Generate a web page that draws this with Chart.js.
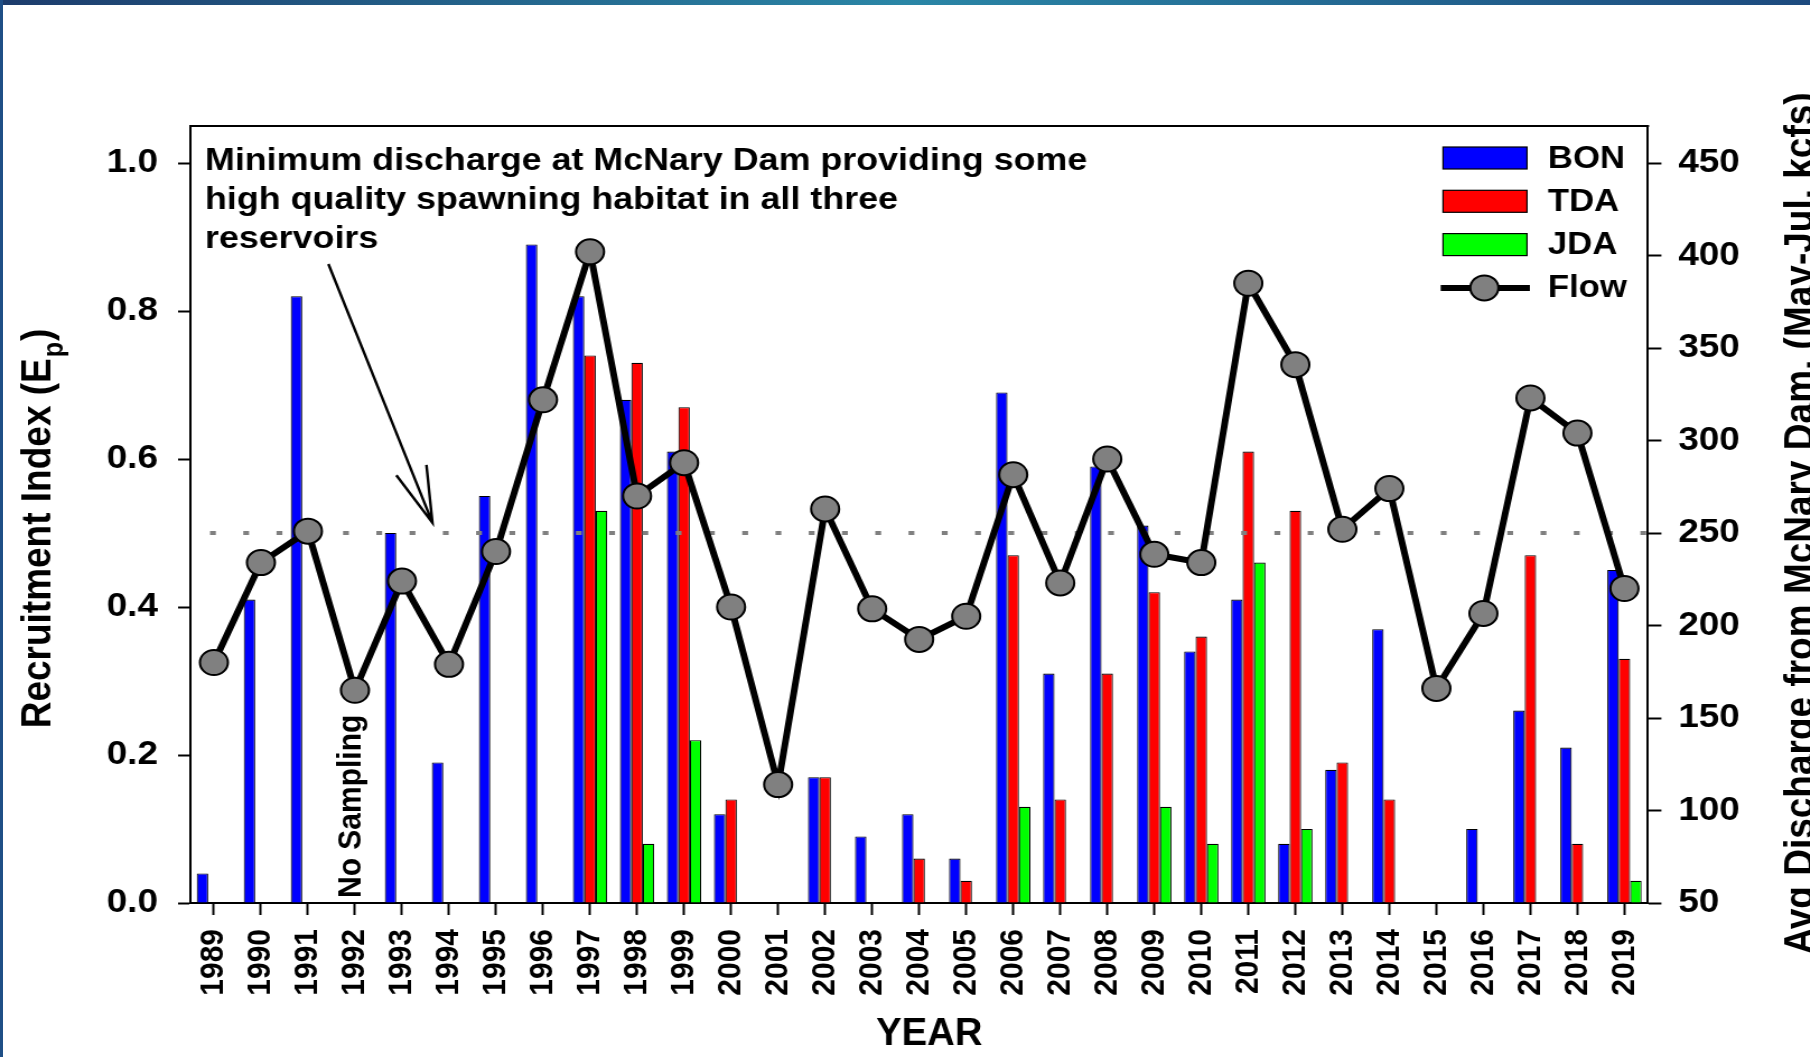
<!DOCTYPE html>
<html>
<head>
<meta charset="utf-8">
<script src="https://cdn.jsdelivr.net/npm/chart.js@4.4.1/dist/chart.umd.min.js"></script>
<style>
html,body{margin:0;padding:0;background:#fff;overflow:hidden;width:1810px;height:1057px;}
#wrap{position:absolute;left:0;top:0;width:1616px;height:1057px;transform:scaleX(1.12);transform-origin:0 0;}
#band{position:absolute;left:0;top:0;width:1810px;height:5px;background:linear-gradient(to right,#1d3c6c 0%,#2a86a6 50%,#1d4a7e 100%);z-index:2;}
#lb{position:absolute;left:0;top:0;width:3px;height:1057px;background:#1f4f86;z-index:2;}
</style>
</head>
<body>
<div id="wrap"><canvas id="c" width="1616" height="1057"></canvas></div>
<div id="band"></div><div id="lb"></div>
<script>
// ---------------- data ----------------
const years = ['1989','1990','1991','1992','1993','1994','1995','1996','1997','1998','1999','2000','2001','2002','2003','2004','2005','2006','2007','2008','2009','2010','2011','2012','2013','2014','2015','2016','2017','2018','2019'];
const bon  = [0.04,0.41,0.82,null,0.50,0.19,0.55,0.89,0.82,0.68,0.61,0.12,null,0.17,0.09,0.12,0.06,0.69,0.31,0.59,0.51,0.34,0.41,0.08,0.18,0.37,null,0.10,0.26,0.21,0.45];
const tda  = [null,null,null,null,null,null,null,null,0.74,0.73,0.67,0.14,null,0.17,null,0.06,0.03,0.47,0.14,0.31,0.42,0.36,0.61,0.53,0.19,0.14,null,null,0.47,0.08,0.33];
const jda  = [null,null,null,null,null,null,null,null,0.53,0.08,0.22,null,null,null,null,null,null,0.13,null,null,0.13,0.08,0.46,0.10,null,null,null,null,null,null,0.03];
const flow = [180,234,251,165,224,179,240,322,402,270,288,210,114,263,209,192.5,205,281.5,223,290,238.5,234,385,341,252,274,166,206.5,323,304,220];

const seriesLabels = ['BON','TDA','JDA','Flow'];
const leftAxis  = {min:0, max:1.05, step:0.2};
const rightAxis = {min:50, max:470, step:50};
const thresholdFlow = 250;
const noSamplingYear = '1992';
const noteLines = ['Minimum discharge at McNary Dam providing some','high quality spawning habitat in all three','reservoirs'];
const leftTitleMain = 'Recruitment Index (E', leftTitleSub = 'p', leftTitleEnd = ')';
const rightTitle = 'Avg Discharge from McNary Dam. (May-Jul. kcfs)';
const xTitle = 'YEAR';
// arrow in data units: [category index, recruitment index]
const arrowStart = [2.435, 0.8635], arrowTip = [4.647, 0.514], arrowH1 = [3.88, 0.578], arrowH2 = [4.52, 0.592];

const FONT = '"Liberation Sans", Arial, Helvetica, sans-serif';
const BLUE = '#0000ff', RED = '#ff0000', GREEN = '#00ff00', GREY = '#808080';

// ---------------- plugins ----------------
function dataPx(chart, p) {
  const xs = chart.scales.x;
  const x0 = xs.getPixelForValue(0), x1 = xs.getPixelForValue(1);
  return [x0 + p[0] * (x1 - x0), chart.scales.y.getPixelForValue(p[1])];
}

const refLinePlugin = {
  id: 'refLine',
  beforeDatasetDraw(chart, args) {
    if (args.meta.type !== 'line') return;
    const {ctx, chartArea: ca} = chart;
    const y = chart.scales.y2.getPixelForValue(thresholdFlow);
    ctx.save();
    ctx.strokeStyle = GREY; ctx.lineWidth = 4;
    ctx.setLineDash([5.2, 24.5]);
    ctx.beginPath(); ctx.moveTo(ca.left + 17.5, y); ctx.lineTo(ca.right, y); ctx.stroke();
    ctx.restore();
  }
};

const framePlugin = {
  id: 'frame',
  afterDatasetsDraw(chart) {
    const {ctx, chartArea: ca} = chart;
    ctx.save();
    ctx.strokeStyle = '#000'; ctx.lineWidth = 2;
    ctx.beginPath();
    ctx.moveTo(ca.left - 1, ca.top); ctx.lineTo(ca.right + 1, ca.top);
    ctx.stroke();
    ctx.restore();
  }
};

const notePlugin = {
  id: 'note',
  afterDatasetsDraw(chart) {
    const {ctx, chartArea: ca} = chart;
    ctx.save();
    ctx.fillStyle = '#000';
    ctx.font = `bold 32px ${FONT}`;
    ctx.textAlign = 'left'; ctx.textBaseline = 'alphabetic';
    noteLines.forEach((t, i) => ctx.fillText(t, ca.left + 13, ca.top + 44 + i * 39));
    // arrow
    const s = dataPx(chart, arrowStart), t = dataPx(chart, arrowTip);
    const h1 = dataPx(chart, arrowH1), h2 = dataPx(chart, arrowH2);
    ctx.strokeStyle = '#000'; ctx.lineWidth = 2.4;
    ctx.beginPath();
    ctx.moveTo(s[0], s[1]); ctx.lineTo(t[0], t[1]);
    ctx.moveTo(h1[0], h1[1]); ctx.lineTo(t[0], t[1]); ctx.lineTo(h2[0], h2[1]);
    ctx.stroke();
    // No Sampling
    const xi = chart.scales.x.getPixelForValue(years.indexOf(noSamplingYear));
    ctx.translate(xi - 3, ca.bottom - 5);
    ctx.rotate(-Math.PI / 2);
    ctx.font = `bold 30px ${FONT}`;
    ctx.textAlign = 'left'; ctx.textBaseline = 'middle';
    ctx.fillText('No Sampling', 0, 0);
    ctx.restore();
  }
};

const legendPlugin = {
  id: 'boxLegend',
  afterDraw(chart) {
    const {ctx, chartArea: ca} = chart;
    const ds = chart.data.datasets;
    const boxL = ca.right - 183, boxW = 75, boxH = 22;
    const textX = ca.right - 89.4;
    const y0 = ca.top + 32, gap = 43.3;
    ctx.save();
    ctx.font = `bold 31px ${FONT}`;
    ctx.textAlign = 'left'; ctx.textBaseline = 'middle';
    ds.forEach((d, i) => {
      const cy = y0 + i * gap;
      if (d.type === 'line') {
        ctx.strokeStyle = d.borderColor; ctx.lineWidth = d.borderWidth;
        ctx.beginPath(); ctx.moveTo(ca.right - 185.1, cy); ctx.lineTo(ca.right - 105.4, cy); ctx.stroke();
        ctx.beginPath(); ctx.arc(ca.right - 146.1, cy, d.pointRadius, 0, Math.PI * 2);
        ctx.fillStyle = d.pointBackgroundColor; ctx.fill();
        ctx.lineWidth = d.pointBorderWidth; ctx.strokeStyle = d.pointBorderColor; ctx.stroke();
      } else {
        ctx.fillStyle = d.backgroundColor;
        ctx.fillRect(boxL, cy - boxH / 2, boxW, boxH);
        ctx.strokeStyle = '#000'; ctx.lineWidth = 1.2;
        ctx.strokeRect(boxL, cy - boxH / 2, boxW, boxH);
      }
      ctx.fillStyle = '#000';
      ctx.fillText(d.label, textX, cy + 1);
    });
    ctx.restore();
  }
};

const axisTitlePlugin = {
  id: 'axisTitles',
  afterDraw(chart) {
    const {ctx, chartArea: ca} = chart;
    const cy = (ca.top + ca.bottom) / 2;
    ctx.save();
    ctx.fillStyle = '#000';
    ctx.translate(ca.left - 125.5, cy + 15);
    ctx.rotate(-Math.PI / 2);
    const f1 = `bold 37px ${FONT}`, f2 = `bold 25px ${FONT}`;
    ctx.font = f1;
    const wA = ctx.measureText(leftTitleMain).width, wC = ctx.measureText(leftTitleEnd).width;
    ctx.font = f2;
    const wB = ctx.measureText(leftTitleSub).width;
    let x = -(wA + wB + wC) / 2;
    ctx.textAlign = 'left'; ctx.textBaseline = 'alphabetic';
    ctx.font = f1; ctx.fillText(leftTitleMain, x, 0); x += wA;
    ctx.font = f2; ctx.fillText(leftTitleSub, x + 1, 11); x += wB + 2;
    ctx.font = f1; ctx.fillText(leftTitleEnd, x, 0);
    ctx.restore();

    ctx.save();
    ctx.fillStyle = '#000';
    ctx.translate(ca.right + 147.1, cy + 9);
    ctx.rotate(-Math.PI / 2);
    ctx.font = `bold 37px ${FONT}`;
    ctx.textAlign = 'center'; ctx.textBaseline = 'alphabetic';
    ctx.fillText(rightTitle, 0, 0);
    ctx.restore();

    // x-axis title (slightly condensed, as in the source figure)
    ctx.save();
    ctx.fillStyle = '#000';
    ctx.translate((ca.left + ca.right) / 2 + 9, ca.bottom + 141.5);
    ctx.scale(0.9, 1);
    ctx.font = `bold 38px ${FONT}`;
    ctx.textAlign = 'center'; ctx.textBaseline = 'alphabetic';
    ctx.fillText(xTitle, 0, 0);
    ctx.restore();
  }
};

// ---------------- chart ----------------
const barCommon = {type: 'bar', yAxisID: 'y', order: 1, borderColor: '#000', borderWidth: 1.1, categoryPercentage: 0.73, barPercentage: 1.0};
const tickFont = {family: FONT, size: 33, weight: 'bold'};

new Chart(document.getElementById('c'), {
  type: 'bar',
  data: {
    labels: years,
    datasets: [
      Object.assign({label: seriesLabels[0], data: bon, backgroundColor: BLUE}, barCommon),
      Object.assign({label: seriesLabels[1], data: tda, backgroundColor: RED}, barCommon),
      Object.assign({label: seriesLabels[2], data: jda, backgroundColor: GREEN}, barCommon),
      {type: 'line', label: seriesLabels[3], data: flow, yAxisID: 'y2', order: 0,
       borderColor: '#000', borderWidth: 6, tension: 0,
       pointRadius: 12.5, pointHoverRadius: 12.5, pointBackgroundColor: GREY, pointBorderColor: '#000', pointBorderWidth: 2, clip: false}
    ]
  },
  options: {
    responsive: false,
    animation: false,
    devicePixelRatio: 1,
    layout: {padding: {top: 126, left: 0, right: 0, bottom: 0}},
    plugins: {legend: {display: false}, tooltip: {enabled: false}},
    scales: {
      x: {
        type: 'category', offset: true,
        grid: {drawOnChartArea: false, drawTicks: true, tickLength: 12, tickWidth: 2, tickColor: '#000', offset: false},
        border: {display: true, color: '#000', width: 2},
        ticks: {minRotation: 90, maxRotation: 90, autoSkip: false, padding: 14, color: '#000', font: {family: FONT, size: 30, weight: 'bold'}},
        title: {display: false, text: xTitle},
        afterFit(s) { s.height = 154; }
      },
      y: {
        type: 'linear', position: 'left', min: leftAxis.min, max: leftAxis.max,
        grid: {drawOnChartArea: false, drawTicks: true, tickLength: 11, tickWidth: 2, tickColor: '#000'},
        border: {display: true, color: '#000', width: 2},
        ticks: {stepSize: leftAxis.step, includeBounds: false, padding: 18, color: '#000', font: tickFont, callback: v => Number(v).toFixed(1)},
        afterFit(s) { s.width = 170; }
      },
      y2: {
        type: 'linear', position: 'right', min: rightAxis.min, max: rightAxis.max,
        grid: {drawOnChartArea: false, drawTicks: true, tickLength: 12, tickWidth: 2, tickColor: '#000'},
        border: {display: true, color: '#000', width: 2},
        ticks: {stepSize: rightAxis.step, includeBounds: false, padding: 15, color: '#000', font: tickFont},
        afterFit(s) { s.width = 1616 - 1471.4; }
      }
    }
  },
  plugins: [refLinePlugin, framePlugin, notePlugin, legendPlugin, axisTitlePlugin]
});
</script>
</body>
</html>
